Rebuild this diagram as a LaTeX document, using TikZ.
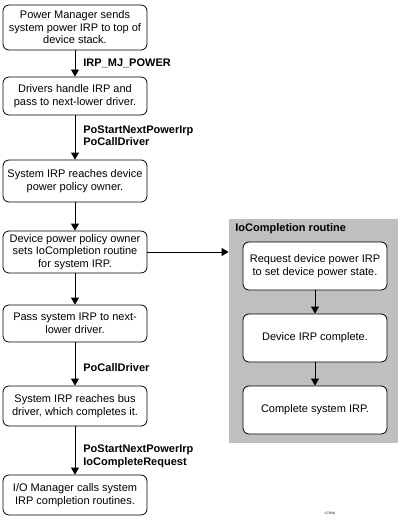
\documentclass[tikz,border=0pt]{standalone}
\usepackage{fontspec}
\setmainfont{Liberation Sans}
\usetikzlibrary{arrows.meta}
\begin{document}
\begin{tikzpicture}[x=1pt,y=-1pt,line width=0.8pt,>={Triangle[width=8pt,length=7pt]},
    box node/.style={draw,fill=white,rounded corners=6pt,minimum width=144pt,align=center,inner sep=0pt,font=\fontsize{11}{12.5}\selectfont},
    call label/.style={anchor=west,align=left,inner sep=0pt,font=\fontsize{11}{12.5}\selectfont\bfseries},
    panel node/.style={fill=black!25,minimum width=169pt,minimum height=224pt,inner sep=0pt}]
    \useasboundingbox (0,0) rectangle (400,532);
    \node[panel node] at (313.5,331) (io) {};
    \node[call label] at (235,229) (iot) {IoCompletion routine};

    \node[box node,minimum height=45pt] at (75,27.5) (b1) {Power Manager sends\\system power IRP to top of\\device stack.};
    \node[box node,minimum height=38pt] at (75,96) (b2) {Drivers handle IRP and\\pass to next-lower driver.};
    \node[box node,minimum height=42pt] at (75,181) (b3) {System IRP reaches device\\power policy owner.};
    \node[box node,minimum height=42pt] at (75,252) (b4) {Device power policy owner\\sets IoCompletion routine\\for system IRP.};
    \node[box node,minimum height=37pt] at (75,323.5) (b5) {Pass system IRP to next-\\lower driver.};
    \node[box node,minimum height=40pt] at (75,406) (b6) {System IRP reaches bus\\driver, which completes it.};
    \node[box node,minimum height=40pt] at (75,495) (b7) {I/O Manager calls system\\IRP completion routines.};

    \node[box node,minimum height=48pt] at (315,266) (c1) {Request device power IRP\\to set device power state.};
    \node[box node,minimum height=48pt] at (315,338) (c2) {Device IRP complete.};
    \node[box node,minimum height=48pt] at (315,410) (c3) {Complete system IRP.};

    \node[font=\fontsize{4}{5}\selectfont,text=black!70] at (330,513) (tag) {s2dirp};

    \path[->] (b1) edge node [call label,xshift=8pt] {IRP\_MJ\_POWER} (b2);
    \path[->] (b2) edge node [call label,xshift=8pt,yshift=2pt] {PoStartNextPowerIrp\\PoCallDriver} (b3);
    \path[->] (b3) edge (b4);
    \path[->] (b4) edge (b5);
    \path[->] (b5) edge node [call label,xshift=8pt,yshift=-4pt] {PoCallDriver} (b6);
    \path[->] (b6) edge node [call label,xshift=8pt,yshift=-6pt] {PoStartNextPowerIrp\\IoCompleteRequest} (b7);
    \path[->] (b4.east) edge (b4.east -| io.west);
    \path[->] (c1) edge (c2);
    \path[->] (c2) edge (c3);
\end{tikzpicture}
\end{document}
